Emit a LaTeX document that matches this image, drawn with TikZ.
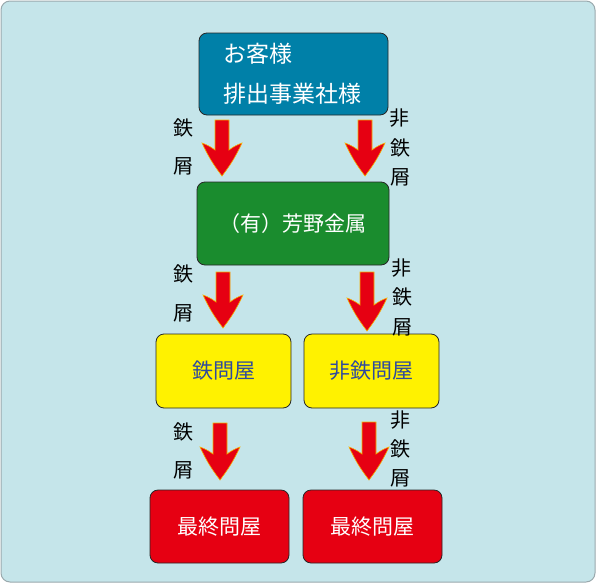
\documentclass[tikz,border=0pt]{standalone}
\usepackage{fontspec}
\newfontfamily\jpfont{Noto Sans CJK JP}
\usepackage{xcolor}
\usetikzlibrary{calc, positioning}

\definecolor{bgblue}{HTML}{C5E5EA}
\definecolor{bgedge}{HTML}{9AA9AD}
\definecolor{boxblue}{HTML}{0080A8}
\definecolor{boxgreen}{HTML}{1A8C2E}
\definecolor{boxyellow}{HTML}{FFF200}
\definecolor{boxred}{HTML}{E60012}
\definecolor{txtblue}{HTML}{2E4A9E}
\definecolor{arrowred}{HTML}{E60012}
\definecolor{arrowedge}{HTML}{F5B000}

% block arrow: #1 top of shaft, #2 tip
\newcommand{\fatarrow}[2]{%
    \path let \p1=#1, \p2=#2 in
        [fill=arrowred, draw=arrowedge, line width=0.6pt, line join=miter]
        (\x1-7pt,\y1) -- (\x1+7pt,\y1)
        -- (\x1+7pt,\y2+26pt)
        to[bend left=8] (\x1+20pt,\y2+33pt)
        to[bend left=6] (\x2,\y2)
        to[bend left=6] (\x1-20pt,\y2+33pt)
        to[bend left=8] (\x1-7pt,\y2+26pt)
        -- cycle;%
}

\begin{document}
\begin{tikzpicture}[
        x=1pt,
        y=-1pt,
        line join=round,
        line cap=round,
        flowbox/.style={draw=black!85, line width=0.8pt, rounded corners=8pt,
            font=\jpfont\fontsize{21}{40}\selectfont, inner sep=0pt},
        flowlabel/.style={font=\jpfont\fontsize{20}{20}\selectfont, inner sep=0pt}
    ]

        % =================================
        % NỀN
        % =================================
        \useasboundingbox (0,0) rectangle (597,584);
        \draw[fill=bgblue, draw=bgedge, line width=1pt, rounded corners=9pt]
            (1,1) rectangle (595,582);


        % =================================
        % CÁC HỘP
        % =================================

        % khách hàng
        \node[flowbox, fill=boxblue, text=white, align=left, text width=141,
              font=\jpfont\fontsize{23}{40}\selectfont,
              minimum width=189, minimum height=82] (kyaku) at (293.5,74)
            {お客様\\排出事業社様};

        % công ty
        \node[flowbox, fill=boxgreen, text=white,
              minimum width=192, minimum height=83] (yoshino) at (293,223.5)
            {（有）芳野金属};

        % nhà buôn
        \node[flowbox, fill=boxyellow, text=txtblue,
              minimum width=135, minimum height=74] (tetsu) at (223.5,371)
            {鉄問屋};
        \node[flowbox, fill=boxyellow, text=txtblue,
              minimum width=135, minimum height=74] (hitetsu) at (371.5,371)
            {非鉄問屋};

        % cuối cùng
        \node[flowbox, fill=boxred, text=white,
              minimum width=139, minimum height=73] (saishuA) at (219.5,526.5)
            {最終問屋};
        \node[flowbox, fill=boxred, text=white,
              minimum width=139, minimum height=73] (saishuB) at (372.5,526.5)
            {最終問屋};


        % =================================
        % MŨI TÊN
        % =================================
        \coordinate (a1L) at (222,120);  \coordinate (t1L) at (222,176);
        \coordinate (a1R) at (365,120);  \coordinate (t1R) at (365,176);
        \coordinate (a2L) at (223,272);  \coordinate (t2L) at (223,328);
        \coordinate (a2R) at (367,272);  \coordinate (t2R) at (367,331);
        \coordinate (a3L) at (220,423);  \coordinate (t3L) at (220,480);
        \coordinate (a3R) at (369,422);  \coordinate (t3R) at (369,480);

        \fatarrow{(a1L)}{(t1L)}
        \fatarrow{(a1R)}{(t1R)}
        \fatarrow{(a2L)}{(t2L)}
        \fatarrow{(a2R)}{(t2R)}
        \fatarrow{(a3L)}{(t3L)}
        \fatarrow{(a3R)}{(t3R)}


        % =================================
        % NHÃN
        % =================================

        % bên trái
        \node[flowlabel] (k1a) at (183,128) {鉄};
        \node[flowlabel] (k1b) at (183,166) {屑};
        \node[flowlabel] (k2a) at (183,274) {鉄};
        \node[flowlabel] (k2b) at (183,313) {屑};
        \node[flowlabel] (k3a) at (183,432) {鉄};
        \node[flowlabel] (k3b) at (183,470) {屑};

        % bên phải
        \node[flowlabel] (h1a) at (399,118) {非};
        \node[flowlabel] (h1b) at (400,148) {鉄};
        \node[flowlabel] (h1c) at (400,177) {屑};
        \node[flowlabel] (h2a) at (401,268) {非};
        \node[flowlabel] (h2b) at (402,297) {鉄};
        \node[flowlabel] (h2c) at (402,327) {屑};
        \node[flowlabel] (h3a) at (400,420) {非};
        \node[flowlabel] (h3b) at (400,449) {鉄};
        \node[flowlabel] (h3c) at (400,478) {屑};

    \end{tikzpicture}
\end{document}
